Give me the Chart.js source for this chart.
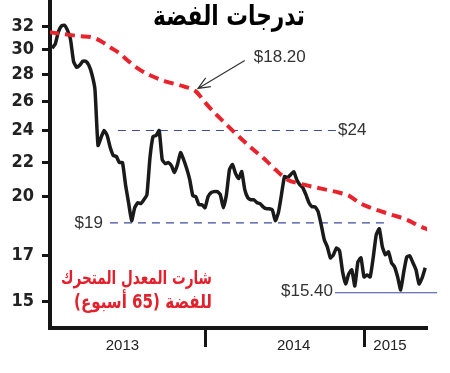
<!DOCTYPE html>
<html>
<head>
<meta charset="utf-8">
<script src="https://cdn.jsdelivr.net/npm/chart.js@4.4.1/dist/chart.umd.min.js"></script>
<style>
  html, body { margin: 0; padding: 0; background: #fff; }
  #wrap { width: 450px; height: 373px; }
</style>
</head>
<body>
<div id="wrap"><canvas id="silverChart" width="450" height="373"></canvas></div>
<script>
// ---------------- Data ----------------
// x = week counted from start of 2013 (52 = start of 2014, 104 = start of 2015)
const priceWeeks = [
  2, 3, 4, 5, 6, 7, 8, 9, 10, 11,
  12, 13, 14, 15, 16, 17, 18, 19, 20, 21,
  22, 23, 24, 25, 26, 27, 28, 29, 30, 31,
  32, 33, 34, 35, 36, 37, 38, 39, 40, 41,
  42, 43, 44, 45, 46, 47, 48, 49, 50, 51,
  52, 53, 54, 55, 56, 57, 58, 59, 60, 61,
  62, 63, 64, 65, 66, 67, 68, 69, 70, 71,
  72, 73, 74, 75, 76, 77, 78, 79, 80, 81,
  82, 83, 84, 85, 86, 87, 88, 89, 90, 91,
  92, 93, 94, 95, 96, 97, 98, 99, 100, 101,
  102, 103, 104, 105, 106, 107, 108, 109, 110, 111,
  112, 113, 114, 115, 116, 117, 118, 119, 120, 121,
  122, 123, 124
];
const silverPrice = [
  30.10, 30.44, 31.46, 31.99, 32.08, 31.64, 30.86, 29.04, 28.56, 28.72,
  29.04, 29.04, 28.72, 28.02, 26.88, 23.03, 23.54, 24.00, 23.67, 22.90,
  22.40, 22.34, 21.97, 21.97, 20.67, 19.67, 18.72, 19.40, 19.67, 19.62,
  19.83, 20.11, 22.28, 23.61, 23.67, 24.00, 22.15, 21.91, 21.97, 21.79,
  21.37, 21.85, 22.58, 22.15, 21.61, 20.96, 20.06, 20.00, 19.56, 19.56,
  19.40, 20.00, 20.22, 20.28, 20.28, 20.11, 19.40, 20.11, 21.55, 21.85,
  21.31, 21.02, 21.43, 20.39, 19.94, 19.83, 19.83, 19.67, 19.62, 19.45,
  19.35, 19.35, 19.29, 18.72, 19.14, 20.11, 21.14, 21.08, 21.25, 21.43,
  20.96, 20.67, 20.50, 20.11, 19.67, 19.45, 19.45, 19.19, 18.51, 17.76,
  17.42, 16.90, 17.04, 17.37, 17.23, 16.26, 15.73, 16.17, 16.35, 15.64,
  16.71, 16.90, 16.03, 16.12, 16.03, 16.90, 18.01, 18.31, 17.42, 17.04,
  17.18, 16.67, 16.48, 16.03, 15.47, 16.26, 16.95, 16.99, 16.67, 16.35,
  15.73, 15.99, 16.44
];

// 65-week moving average
const maWeeks = [1, 6, 11, 15, 18, 21, 24, 27, 30, 34, 39, 45, 49, 52, 55, 58, 62, 67, 72, 75, 79, 83, 90, 96, 99, 103, 108, 113, 118, 122, 125];
const maValues = [31.46, 31.29, 31.12, 31.03, 30.69, 30.18, 29.69, 29.04, 28.48, 27.94, 27.48, 27.10, 26.73, 25.93, 25.22, 24.60, 23.80, 22.90, 22.09, 21.55, 20.96, 20.73, 20.45, 20.22, 20.06, 19.62, 19.29, 19.03, 18.77, 18.46, 18.26];

// horizontal reference levels
const levelValues = [24, 18.61, 15.35];
const levelLabels = ["$24", "$19", "$15.40"];
const levelFrom = [23.5, 20.9, 94.5];
const levelTo = [95.2, 111.8, 127.9];

const maLastLabel = "$18.20";
const titleText = "تدرجات الفضة";
const maNote = ["شارت المعدل المتحرك", "للفضة (65 أسبوع)"];

const yTicks = [15, 17, 20, 22, 24, 26, 28, 30, 32];
const yearLabels = ["2013", "2014", "2015"];
const yearLabelWeeks = [25, 81, 112.5];
const yearStartWeeks = [52, 104];

// ---------------- Datasets ----------------
const priceData = priceWeeks.map((w, i) => ({ x: w, y: silverPrice[i] }));
const maData = maWeeks.map((w, i) => ({ x: w, y: maValues[i] }));

const levelSets = levelValues.map((v, i) => ({
  label: levelLabels[i],
  data: [{ x: levelFrom[i], y: v }, { x: levelTo[i], y: v }],
  borderColor: "#3d4c9c",
  borderWidth: 1.2,
  borderDash: i === 2 ? [] : [8, 6],
  pointRadius: 0,
  clip: false
}));

// draw text squeezed/stretched to a given width (arabic fallback font is wider)
function fitText(ctx, text, xRight, y, width) {
  const w = ctx.measureText(text).width;
  ctx.save();
  ctx.translate(xRight, y);
  ctx.scale(width / w, 1);
  ctx.fillText(text, 0, 0);
  ctx.restore();
}

// ---------------- Text / arrow overlay ----------------
const overlayText = {
  id: "overlayText",
  afterDatasetsDraw(chart) {
    const { ctx } = chart;
    const xs = chart.scales.x;
    const ys = chart.scales.y;
    ctx.save();

    // title
    ctx.direction = "rtl";
    ctx.font = 'bold 28px "DejaVu Sans", sans-serif';
    ctx.fillStyle = "#000";
    ctx.textAlign = "right";
    ctx.textBaseline = "alphabetic";
    fitText(ctx, titleText, 305, 25, 152);

    // red note
    ctx.font = 'bold 19px "DejaVu Sans", sans-serif';
    ctx.fillStyle = "#e3202b";
    ctx.textBaseline = "middle";
    fitText(ctx, maNote[0], 212, 279, 151);
    fitText(ctx, maNote[1], 212, 303, 138);

    // level labels
    ctx.direction = "ltr";
    ctx.font = '17px "Liberation Sans", Arial, sans-serif';
    ctx.fillStyle = "#333";
    ctx.textAlign = "left";
    ctx.fillText(levelLabels[0], xs.getPixelForValue(levelTo[0]) + 1, ys.getPixelForValue(levelValues[0]));
    ctx.textAlign = "right";
    ctx.fillText(levelLabels[1], xs.getPixelForValue(levelFrom[1]) - 7, ys.getPixelForValue(levelValues[1]));
    ctx.fillText(levelLabels[2], xs.getPixelForValue(levelFrom[2]) - 2, ys.getPixelForValue(levelValues[2]) - 1);

    // arrow to the moving average
    const tx = xs.getPixelForValue(49.7), ty = ys.getPixelForValue(26.95);
    const fx = xs.getPixelForValue(65), fy = ys.getPixelForValue(29.1);
    ctx.strokeStyle = "#333";
    ctx.lineWidth = 1.2;
    ctx.beginPath();
    ctx.moveTo(fx, fy);
    ctx.lineTo(tx, ty);
    const ang = Math.atan2(fy - ty, fx - tx);
    ctx.moveTo(tx + 13 * Math.cos(ang + 0.4), ty + 13 * Math.sin(ang + 0.4));
    ctx.lineTo(tx, ty);
    ctx.lineTo(tx + 13 * Math.cos(ang - 0.4), ty + 13 * Math.sin(ang - 0.4));
    ctx.stroke();
    ctx.textAlign = "left";
    ctx.fillText(maLastLabel, fx + 9, fy - 3);

    ctx.restore();
  }
};

// ---------------- Chart ----------------
const ctxLine = document.getElementById("silverChart").getContext("2d");
new Chart(ctxLine, {
  type: "line",
  data: {
    datasets: [
      {
        label: "MA 65",
        data: maData,
        borderColor: "#e8232b",
        borderWidth: 4,
        borderDash: [10, 6],
        cubicInterpolationMode: "monotone",
        pointRadius: 0
      },
      {
        label: "Silver",
        data: priceData,
        borderColor: "#1a1a1a",
        borderWidth: 3.5,
        borderJoinStyle: "round",
        tension: 0.15,
        pointRadius: 0
      },
      ...levelSets
    ]
  },
  options: {
    responsive: false,
    animation: false,
    layout: { padding: { left: 0, right: 23, top: 0, bottom: 0 } },
    plugins: {
      legend: { display: false },
      tooltip: { enabled: false }
    },
    scales: {
      x: {
        type: "linear",
        min: 1.3,
        max: 124.6,
        afterBuildTicks: s => {
          s.ticks = [yearLabelWeeks[0], yearStartWeeks[0], yearLabelWeeks[1], yearStartWeeks[1], yearLabelWeeks[2]].map(v => ({ value: v }));
        },
        afterFit: s => {
          s.height = 45;
          s.paddingLeft = 0;
          s.paddingRight = 0;
        },
        ticks: {
          autoSkip: false,
          maxRotation: 0,
          padding: -10,
          color: "#222",
          font: { family: '"Liberation Sans", Arial, sans-serif', size: 15 },
          callback: v => {
            const k = yearLabelWeeks.indexOf(v);
            return k >= 0 ? yearLabels[k] : "";
          }
        },
        grid: {
          drawOnChartArea: false,
          tickLength: 19,
          tickWidth: 3,
          tickColor: c => (yearStartWeeks.includes(c.tick && c.tick.value) ? "#151515" : "rgba(0,0,0,0)")
        },
        border: { color: "#151515", width: 4 }
      },
      y: {
        type: "logarithmic",
        min: 13.93,
        max: 34.38,
        afterBuildTicks: s => {
          s.ticks = yTicks.map(v => ({ value: v }));
        },
        afterFit: s => {
          s.width = 50;
          s.paddingTop = 0;
          s.paddingBottom = 0;
        },
        ticks: {
          padding: 8,
          color: "#222",
          font: { family: '"Liberation Sans Narrow", "DejaVu Sans Condensed", sans-serif', size: 18, weight: "bold" },
          callback: v => String(v)
        },
        grid: {
          drawOnChartArea: false,
          tickLength: 8,
          tickWidth: 3,
          tickColor: "#151515"
        },
        border: { color: "#151515", width: 4 }
      }
    }
  },
  plugins: [overlayText]
});
</script>
</body>
</html>
